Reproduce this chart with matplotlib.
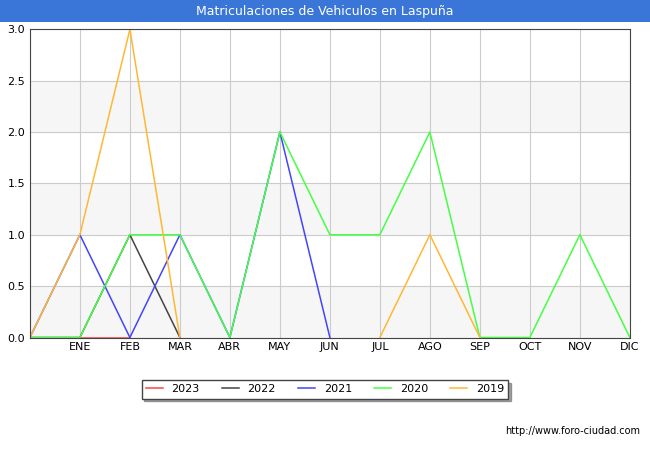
import matplotlib
matplotlib.use("Agg")
import matplotlib.pyplot as plt
import numpy as np

months = ["", "ENE", "FEB", "MAR", "ABR", "MAY", "JUN", "JUL", "AGO", "SEP", "OCT", "NOV", "DIC"]
nan = np.nan
s2023 = [nan, 0, 0]
s2022 = [0, 0, 1, 0]
s2021 = [0, 1, 0, 1, 0, 2, 0]
s2020 = [0, 0, 1, 1, 0, 2, 1, 1, 2, 0, 0, 1, 0]
s2019 = [0, 1, 3, 0, nan, nan, nan, 0, 1, 0]
series = [("2023", s2023, "#ff4444"), ("2022", s2022, "#444444"), ("2021", s2021, "#4444ff"),
          ("2020", s2020, "#44ff44"), ("2019", s2019, "#ffb833")]

fig = plt.figure(figsize=(6.5, 4.5), dpi=100)
ax = fig.add_axes([0.046, 0.25, 0.923, 0.685])
for y0 in [0.0, 1.0, 2.0]:
    ax.axhspan(y0, y0 + 0.5, color="#f6f6f6", zorder=0)
for name, vals, c in series:
    ax.plot(range(len(vals)), vals, color=c, lw=1.1, label=name, zorder=2)
ax.set_xlim(0, 12)
ax.set_ylim(0, 3)
ax.set_xticks(range(13))
ax.set_xticklabels(months, fontsize=8)
ax.set_yticks(np.arange(0, 3.01, 0.5))
ax.set_yticklabels([f"{v:.1f}" for v in np.arange(0, 3.01, 0.5)], fontsize=8)
ax.grid(True, color="#cccccc", lw=0.8)
ax.tick_params(length=0)
for s in ax.spines.values():
    s.set_color("#444444")
h, l = ax.get_legend_handles_labels()
leg = fig.legend(h, l, loc="center", bbox_to_anchor=(0.5, 0.135), ncol=5,
                 fontsize=8, frameon=True, fancybox=False, shadow=True, edgecolor="#444444",
                 handlelength=1.5)
fig.patches.append(matplotlib.patches.Rectangle((0, 0.952), 1, 0.048, transform=fig.transFigure,
                                                fc="#3a76d8", ec="none", zorder=-1))
fig.text(0.5, 0.975, "Matriculaciones de Vehiculos en Laspuña", ha="center", va="center",
         color="white", fontsize=9)
fig.text(0.985, 0.035, "http://www.foro-ciudad.com", ha="right", fontsize=7)
fig.savefig("out.png")
